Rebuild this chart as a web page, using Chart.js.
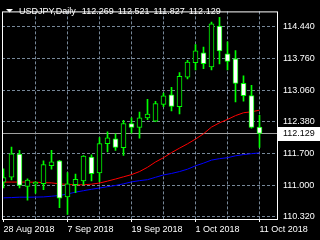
<!DOCTYPE html>
<html>
<head>
<meta charset="utf-8">
<script src="https://cdn.jsdelivr.net/npm/chart.js@4.4.1/dist/chart.umd.min.js"></script>
<style>
  html, body { margin: 0; padding: 0; background: #000; overflow: hidden; }
</style>
</head>
<body>
<canvas id="chart" width="320" height="240"></canvas>
<script>
const symbolTitle = 'USDJPY,Daily';

const dates = [
  '28 Aug 2018', '29 Aug 2018', '30 Aug 2018', '31 Aug 2018',
  '3 Sep 2018', '4 Sep 2018', '5 Sep 2018', '6 Sep 2018', '7 Sep 2018',
  '10 Sep 2018', '11 Sep 2018', '12 Sep 2018', '13 Sep 2018', '14 Sep 2018',
  '17 Sep 2018', '18 Sep 2018', '19 Sep 2018', '20 Sep 2018', '21 Sep 2018',
  '24 Sep 2018', '25 Sep 2018', '26 Sep 2018', '27 Sep 2018', '28 Sep 2018',
  '1 Oct 2018', '2 Oct 2018', '3 Oct 2018', '4 Oct 2018', '5 Oct 2018',
  '8 Oct 2018', '9 Oct 2018', '10 Oct 2018', '11 Oct 2018'
];

const open = [
  111.071, 111.183, 111.680, 110.982, 111.033, 111.038, 111.432, 111.535, 110.753,
  111.017, 111.100, 111.618, 111.272, 111.909, 112.015, 111.822, 112.345, 112.262,
  112.469, 112.399, 112.760, 112.967, 112.710, 113.353, 113.664, 113.880, 113.575,
  114.461, 113.859, 113.747, 113.216, 112.952, 112.269
];
const high = [
  111.361, 111.832, 111.764, 111.147, 111.085, 111.535, 111.764, 111.548, 111.282,
  111.251, 111.652, 111.666, 112.040, 112.164, 112.123, 112.413, 112.469, 112.594,
  112.869, 112.828, 113.008, 113.133, 113.450, 113.714, 114.058, 114.004, 114.544,
  114.647, 114.120, 113.928, 113.382, 113.174, 112.521
];
const low = [
  110.946, 111.120, 110.950, 110.685, 110.836, 110.913, 111.355, 110.519, 110.374,
  110.847, 111.017, 111.100, 111.085, 111.728, 111.760, 111.656, 112.137, 112.025,
  112.428, 112.386, 112.710, 112.620, 112.552, 113.311, 113.506, 113.533, 113.506,
  113.637, 113.506, 112.813, 112.828, 112.247, 111.827
];
const close = [
  111.174, 111.687, 111.002, 111.116, 111.070, 111.452, 111.515, 110.726, 111.038,
  111.137, 111.639, 111.258, 111.909, 112.036, 111.826, 112.345, 112.262, 112.469,
  112.552, 112.780, 112.946, 112.718, 113.367, 113.679, 113.921, 113.643, 114.508,
  113.921, 113.693, 113.216, 112.952, 112.262, 112.129
];

// moving averages drawn on the chart
const maRed = [
  111.075, 111.075, 111.075, 111.075, 111.071, 111.064, 111.058, 111.037, 111.023,
  111.017, 111.017, 111.029, 111.054, 111.096, 111.141, 111.189, 111.237, 111.303,
  111.396, 111.511, 111.604, 111.714, 111.811, 111.905, 112.008, 112.123, 112.268,
  112.361, 112.434, 112.517, 112.579, 112.600, 112.635
];
const maBlue = [
  110.733, 110.739, 110.747, 110.747, 110.749, 110.753, 110.768, 110.784, 110.816,
  110.857, 110.888, 110.919, 110.946, 110.975, 111.002, 111.037, 111.079, 111.106,
  111.127, 111.179, 111.230, 111.262, 111.303, 111.355, 111.428, 111.486, 111.552,
  111.583, 111.604, 111.645, 111.672, 111.691, 111.708
];

const yTicks = [110.32, 111.0, 111.7, 112.38, 113.06, 113.76, 114.44];
const xGrid = [0, 4, 8, 12, 16, 20, 24, 28, 32];
const xLabelEvery = 8;

const FONT = '"Liberation Sans", Arial, sans-serif';
const LIME = '#00ff00';
const GRID = '#778899';

const idx = dates.map((d, i) => i);
const bodyColors = close.map((c, i) => c > open[i] ? '#000000' : '#ffffff');

const overlay = {
  id: 'overlay',
  beforeDatasetsDraw(chart) {
    const { ctx, chartArea: a, scales: { y } } = chart;
    const py = Math.floor(y.getPixelForValue(close[close.length - 1])) + 0.5;
    ctx.save();
    ctx.strokeStyle = '#a0a0a0';
    ctx.lineWidth = 1;
    ctx.beginPath();
    ctx.moveTo(a.left, py);
    ctx.lineTo(a.right, py);
    ctx.stroke();
    ctx.restore();
  },
  afterDraw(chart) {
    const { ctx, chartArea: a, scales: { y } } = chart;
    ctx.save();
    // frame
    ctx.strokeStyle = '#ffffff';
    ctx.lineWidth = 1;
    ctx.strokeRect(a.left + 0.5, a.top + 0.5, a.right - a.left, a.bottom - a.top);

    // last price box
    const last = close[close.length - 1];
    const py = Math.floor(y.getPixelForValue(last)) + 0.5;
    ctx.fillStyle = '#ffffff';
    ctx.fillRect(a.right + 1, Math.floor(py) - 6, chart.width - a.right - 1, 14);
    ctx.fillStyle = '#000000';
    ctx.font = '9px ' + FONT;
    ctx.textBaseline = 'middle';
    ctx.fillText(last.toFixed(3), a.right + 6, py + 0.5);

    // title
    ctx.fillStyle = '#ffffff';
    ctx.beginPath();
    ctx.moveTo(6, 9);
    ctx.lineTo(13, 9);
    ctx.lineTo(9.5, 12.5);
    ctx.closePath();
    ctx.fill();
    ctx.textBaseline = 'alphabetic';
    ctx.wordSpacing = '1.5px';
    ctx.fillText(symbolTitle, 19, 14);
    const n = close.length - 1;
    const vals = [open[n], high[n], low[n], close[n]].map(v => v.toFixed(3)).join(' ');
    ctx.fillText(vals, 19 + ctx.measureText(symbolTitle).width + 6, 14);
    ctx.restore();
  }
};

new Chart(document.getElementById('chart'), {
  type: 'bar',
  data: {
    datasets: [
      {
        type: 'line',
        data: idx.map(i => ({ x: i, y: maRed[i] })),
        borderColor: '#ff0000',
        borderWidth: 1,
        pointRadius: 0,
        tension: 0,
        order: 3
      },
      {
        type: 'line',
        data: idx.map(i => ({ x: i, y: maBlue[i] })),
        borderColor: '#0000ff',
        borderWidth: 1,
        pointRadius: 0,
        tension: 0,
        order: 3
      },
      {
        data: idx.map(i => ({ x: i, y: [low[i], high[i]] })),
        backgroundColor: LIME,
        barThickness: 1,
        grouped: false,
        order: 2
      },
      {
        data: idx.map(i => ({ x: i, y: [open[i], close[i]] })),
        backgroundColor: bodyColors,
        borderColor: LIME,
        borderWidth: 1,
        borderSkipped: false,
        barThickness: 5,
        grouped: false,
        order: 1
      }
    ]
  },
  options: {
    responsive: false,
    animation: false,
    layout: { padding: { left: 2, top: 2, right: 0, bottom: 0 } },
    plugins: { legend: { display: false }, tooltip: { enabled: false } },
    scales: {
      x: {
        type: 'linear',
        offset: false,
        min: -0.1875,
        max: 34.1875,
        afterBuildTicks: s => { s.ticks = xGrid.map(v => ({ value: v })); },
        afterFit: s => { s.height = 21; },
        border: { display: false, dash: [3, 2] },
        grid: {
          offset: false,
          color: c => (c.tick && c.tick.value === 0) ? 'rgba(0,0,0,0)' : GRID,
          lineWidth: 1,
          tickLength: 3,
          tickColor: c => (c.tick && c.tick.value % xLabelEvery === 0) ? '#ffffff' : 'rgba(0,0,0,0)'
        },
        ticks: {
          autoSkip: false,
          maxRotation: 0,
          align: 'start',
          padding: 2,
          color: '#ffffff',
          font: { family: FONT, size: 9 },
          callback: v => v % xLabelEvery === 0 ? dates[v] : ''
        }
      },
      y: {
        position: 'right',
        min: 110.274,
        max: 114.778,
        afterBuildTicks: s => { s.ticks = yTicks.map(v => ({ value: v })); },
        afterFit: s => { s.width = 43; },
        border: { display: false, dash: [3, 2] },
        grid: { color: GRID, lineWidth: 1, drawTicks: false },
        ticks: {
          padding: 6,
          color: '#ffffff',
          font: { family: FONT, size: 9 },
          callback: v => v.toFixed(3)
        }
      }
    }
  },
  plugins: [overlay]
});
</script>
</body>
</html>
